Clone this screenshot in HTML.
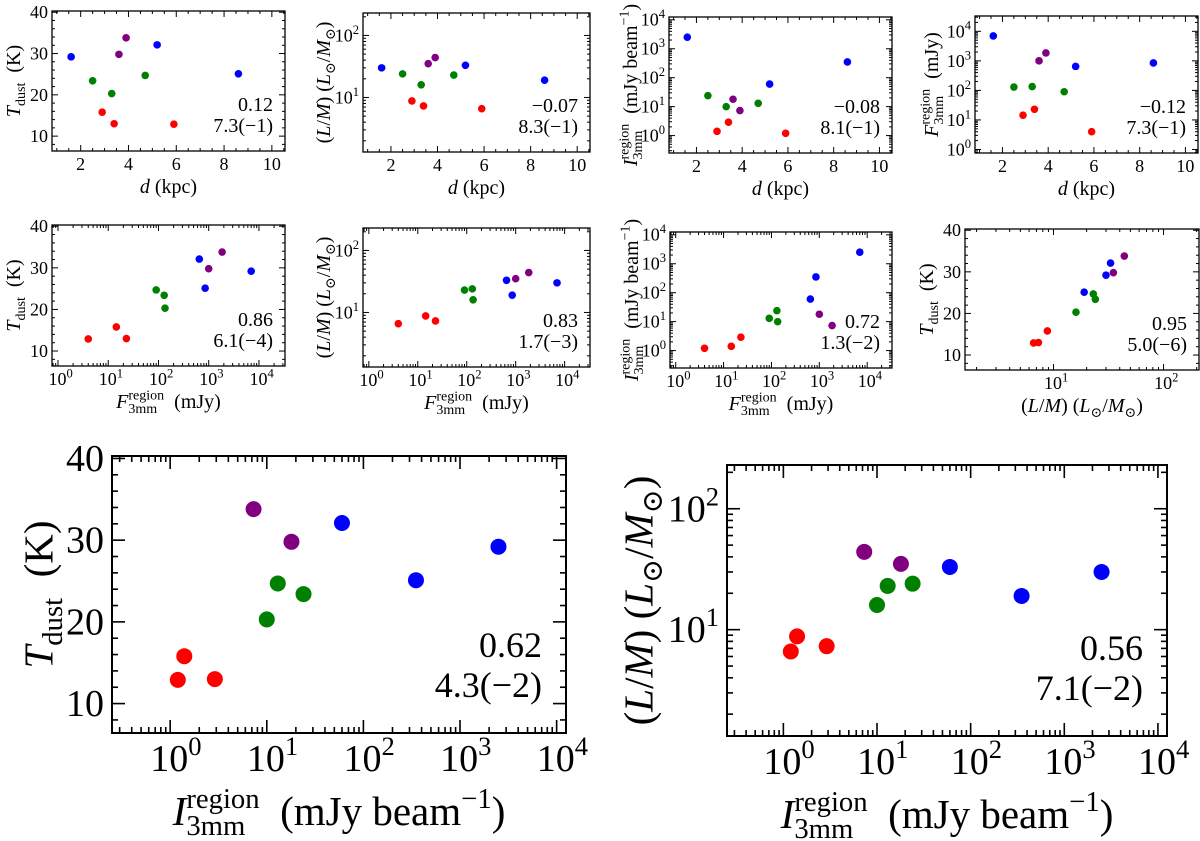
<!DOCTYPE html>
<html><head><meta charset="utf-8">
<style>
html,body{margin:0;padding:0;background:#fff;}
svg, svg text{font-family:"Liberation Serif","DejaVu Serif",serif;}
svg{display:block;}
</style></head>
<body>
<svg id="fig" width="1200" height="841" viewBox="0 0 1200 841" font-family="Liberation Serif, DejaVu Serif, serif" xmlns="http://www.w3.org/2000/svg"></svg>
<script>
// Source properties (one entry per source)
const sourceColors = ["#0000ff","#0000ff","#0000ff","#800080","#800080","#008000","#008000","#008000","#ff0000","#ff0000","#ff0000"];
const distKpc = [1.6, 5.2, 8.6, 3.6, 3.9, 2.5, 3.3, 4.7, 2.9, 3.4, 5.9];
const tDust = [29.2, 32.1, 25.1, 29.8, 33.8, 23.4, 20.3, 24.7, 15.8, 13.0, 12.9];
const lOverM = [30, 33, 19, 35, 44, 24, 16, 23, 8.8, 7.3, 6.6];
const i3mm = [2500, 60, 350, 18, 7.3, 24, 10, 13, 1.4, 2.9, 1.2];
const f3mm = [7000, 650, 850, 1000, 1850, 130, 135, 90, 14.5, 23, 4];
// Correlation coefficients and p-values per panel
const corrR = ["0.12","\u22120.07","\u22120.08","\u22120.12","0.86","0.83","0.72","0.95","0.62","0.56"];
const corrP = ["7.3(\u22121)","8.3(\u22121)","8.1(\u22121)","7.3(\u22121)","6.1(\u22124)","1.7(\u22123)","1.3(\u22122)","5.0(\u22126)","4.3(\u22122)","7.1(\u22122)"];
const dTicks = [2,4,6,8,10];
const tTicks = [10,20,30,40];

const NS="http://www.w3.org/2000/svg";
const FONT='"Liberation Serif", "DejaVu Serif", serif';
const fig=document.getElementById('fig');
function mk(tag,attrs,parent){const e=document.createElementNS(NS,tag);for(const k in attrs)e.setAttribute(k,attrs[k]);if(tag==='text')e.setAttribute('font-family',FONT);(parent||fig).appendChild(e);return e;}

function mathLabel(parent,parts,fs,x,y,rot,align){
  const g=mk('g',{},parent);
  let cx=0;
  for(const p of parts){
    if(p.t!==undefined){
      const t=mk('text',{x:cx,y:0,'font-size':fs},g);
      if(p.it)t.setAttribute('font-style','italic');
      t.textContent=p.t;cx+=t.getComputedTextLength();
    }else{
      let w=0;
      if(p.sup){const t=mk('text',{x:cx,y:-0.42*fs,'font-size':0.7*fs},g);t.textContent=p.sup;w=Math.max(w,t.getComputedTextLength());}
      if(p.sub){const t=mk('text',{x:cx,y:0.24*fs,'font-size':0.7*fs},g);t.textContent=p.sub;w=Math.max(w,t.getComputedTextLength());}
      cx+=w;
    }
  }
  let dx=align==='end'?-cx:(align==='start'?0:-cx/2);
  let dy=rot?0.35*fs:0;
  g.setAttribute('transform',`translate(${x},${y}) rotate(${rot||0}) translate(${dx},${dy})`);
  return g;
}

const S='\u00a0';
const LAB={
  d:[{t:'d',it:true},{t:S+'(kpc)'}],
  T:[{t:'T',it:true},{sub:'dust'},{t:S+S+'(K)'}],
  LM:[{t:'('},{t:'L',it:true},{t:'/'},{t:'M',it:true},{t:')'+S+'('},{t:'L',it:true},{sub:'\u2299'},{t:'/'},{t:'M',it:true},{sub:'\u2299'},{t:')'}],
  I:[{t:'I',it:true},{sup:'region',sub:'3mm'},{t:S+S+'(mJy'+S+'beam'},{sup:'\u22121'},{t:')'}],
  F:[{t:'F',it:true},{sup:'region',sub:'3mm'},{t:S+S+'(mJy)'}]
};

function scale(type,lim,a,b){
  if(type==='log'){const l0=Math.log10(lim[0]),l1=Math.log10(lim[1]);return v=>a+(Math.log10(v)-l0)/(l1-l0)*(b-a);}
  return v=>a+(v-lim[0])/(lim[1]-lim[0])*(b-a);
}

const LIM={d:[0.8,10.55],T:[6.4,40.3],LM:[1.32,230],I:[0.25,12500],F:[0.76,33000],LMx:[1.57,210]};
const TYPE={d:'lin',T:'lin',LM:'log',I:'log',F:'log'};
const VAL={d:distKpc,T:tDust,LM:lOverM,I:i3mm,F:f3mm};

const panels=[
 {x:'d',y:'T',b:[52,285,11,151],yo:39},
 {x:'d',y:'LM',b:[363,590,13,152],yo:40},
 {x:'d',y:'I',b:[669,892,17,153],yo:39},
 {x:'d',y:'F',b:[975,1198,16,153],yo:44},
 {x:'F',y:'T',b:[52,285,225,366],yo:39},
 {x:'F',y:'LM',b:[363,590,228,367],yo:40},
 {x:'F',y:'I',b:[670,892,232,368],yo:39},
 {x:'LM',y:'T',b:[965,1199,229,370],yo:39,xlim:'LMx'},
 {x:'I',y:'T',b:[112,566,456,733],yo:74,big:true},
 {x:'I',y:'LM',b:[727,1167,465,736],yo:89,big:true}
];

panels.forEach((P,pi)=>{
  const [x0,x1,y0,y1]=P.b;
  const big=!!P.big;
  const g=mk('g',{});
  
  
  const xt=TYPE[P.x], yt=TYPE[P.y];
  const xl=LIM[P.xlim||P.x], yl=LIM[P.y];
  const sx=scale(xt,xl,x0,x1), sy=scale(yt,yl,y1,y0);
  const ML=big?13:6, mL=big?6:3, lw=big?1.6:1;
  const tfs=big?38:18, lfs=big?41:20, afs=big?36:20;
  function ticks(type,lim,majorsLin,minorStep){
    const out=[];
    if(type==='log'){
      for(let e=Math.floor(Math.log10(lim[0]));e<=Math.ceil(Math.log10(lim[1]));e++){
        for(let m=1;m<10;m++){const v=m*Math.pow(10,e);if(v>=lim[0]&&v<=lim[1])out.push({v:v,major:m===1,e:e});}
      }
    }else{
      for(let v=Math.ceil(lim[0]/minorStep)*minorStep;v<=lim[1]+1e-9;v+=minorStep){
        const vv=Math.round(v*1000)/1000;
        out.push({v:vv,major:majorsLin.indexOf(vv)>=0});
      }
    }
    return out;
  }
  const xT=ticks(xt,xl,P.x==='d'?dTicks:tTicks,P.x==='d'?0.5:2);
  const yT=ticks(yt,yl,tTicks,2);
  const tg=mk('g',{stroke:'#000','stroke-width':lw},g);
  
  
  xT.forEach(t=>{const X=sx(t.v),L=t.major?ML:mL;
    mk('line',{x1:X,x2:X,y1:y1,y2:y1-L},tg);mk('line',{x1:X,x2:X,y1:y0,y2:y0+L},tg);
    if(t.major){
      const lab=xt==='log'?[{t:'10'},{sup:String(t.e)}]:[{t:String(t.v)}];
      const lg=mathLabel(g,lab,tfs,X+(xt==='log'?tfs*0.15:0),y1+(big?38:19),0,'middle');
      
      
    }});
  yT.forEach(t=>{const Y=sy(t.v),L=t.major?ML:mL;
    mk('line',{x1:x0,x2:x0+L,y1:Y,y2:Y},tg);mk('line',{x1:x1,x2:x1-L,y1:Y,y2:Y},tg);
    if(t.major){
      const lab=yt==='log'?[{t:'10'},{sup:String(t.e)}]:[{t:String(t.v)}];
      const lg=mathLabel(g,lab,tfs,x0-(big?8:4),Y+tfs*0.33,0,'end');
      
      
    }});
  const frame=mk('rect',{x:x0,y:y0,width:x1-x0,height:y1-y0,fill:'none',stroke:'#000','stroke-width':big?2:1.3},g);
  
  
  const xlab=mathLabel(g,LAB[P.x],lfs,(x0+x1)/2,y1+(big?92:42),0,'middle');
  
  
  const ylab=mathLabel(g,LAB[P.y],lfs,x0-P.yo,(y0+y1)/2,-90,'middle');
  
  
  const xs=VAL[P.x], ys=VAL[P.y];
  const r=big?8:3.8;
  for(let i=0;i<xs.length;i++){
    const c=mk('circle',{cx:sx(xs[i]),cy:sy(ys[i]),r:r,fill:sourceColors[i]},g);
    
    
  }
  const a1=mk('text',{x:x1-(big?24:12),y:y1-(big?76:40),'font-size':afs,'text-anchor':'end'},g);
  a1.textContent=corrR[pi];
  
  
  const a2=mk('text',{x:x1-(big?24:12),y:y1-(big?36:19),'font-size':afs,'text-anchor':'end'},g);
  a2.textContent=corrP[pi];
  
  
});
</script>
</body></html>
